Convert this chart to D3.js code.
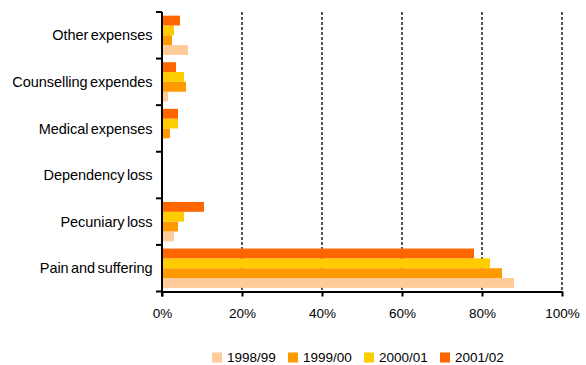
<!DOCTYPE html>
<html>
<head>
<meta charset="utf-8">
<script src="https://cdn.jsdelivr.net/npm/d3@7"></script>
<style>
  html, body { margin: 0; padding: 0; background: #fff; }
  svg { display: block; font-family: Arial, "Liberation Sans", sans-serif; }
</style>
</head>
<body>
<svg id="chart" width="586" height="365"></svg>
<script>
// Claim categories, bottom to top
const categories = ["Pain and suffering", "Pecuniary loss", "Dependency loss",
                    "Medical expenses", "Counselling expendes", "Other expenses"];
const seriesNames = ["1998/99", "1999/00", "2000/01", "2001/02"];
const seriesColors = ["#FFCC99", "#FF9900", "#FFCC00", "#FF6600"];

// Share of total (%) per category, one array per year
const v1998 = [88, 3, 0, 0, 1.5, 6.5];
const v1999 = [85, 4, 0, 2, 6, 2.5];
const v2000 = [82, 5.5, 0, 4, 5.5, 3];
const v2001 = [78, 10.5, 0, 4, 3.5, 4.5];
const seriesValues = [v1998, v1999, v2000, v2001];

const xTicks = [0, 20, 40, 60, 80, 100];

const svg = d3.select("#chart");
const plotLeft = 162, plotRight = 562, plotTop = 12, plotBottom = 291.5;

const x = d3.scaleLinear().domain([0, 100]).range([plotLeft, plotRight]);
const y = d3.scaleBand().domain(categories).range([plotBottom, plotTop]);
// within a band the latest year sits on top
const inner = d3.scaleBand().domain(seriesNames.slice().reverse())
  .range([0, y.bandwidth()]).paddingInner(0).paddingOuter(0.37);

// dashed gridlines
svg.append("g").selectAll("line")
  .data(xTicks.filter(d => d > 0))
  .join("line")
  .attr("x1", d => x(d)).attr("x2", d => x(d))
  .attr("y1", plotTop).attr("y2", plotBottom)
  .attr("stroke", "#000").attr("stroke-width", 1.3)
  .attr("stroke-dasharray", "3,2");

// bars
const groups = svg.append("g").selectAll("g")
  .data(seriesNames)
  .join("g")
  .attr("fill", (d, i) => seriesColors[i]);

groups.selectAll("rect")
  .data((s, si) => categories.map((c, ci) => ({ c, s, v: seriesValues[si][ci] })))
  .join("rect")
  .attr("x", x(0))
  .attr("y", d => y(d.c) + inner(d.s))
  .attr("width", d => x(d.v) - x(0))
  .attr("height", inner.bandwidth());

// x axis
const xAxis = svg.append("g")
  .attr("transform", `translate(0,${plotBottom})`)
  .call(d3.axisBottom(x).tickValues(xTicks).tickFormat(d => d + "%")
    .tickSizeInner(5).tickSizeOuter(0).tickPadding(12));
xAxis.select(".domain").attr("stroke-width", 2);
xAxis.selectAll(".tick line").attr("stroke-width", 2);
xAxis.selectAll("text").attr("font-size", 13.5).attr("fill", "#000")
  .attr("font-family", "Arial, 'Liberation Sans', sans-serif");

// y axis: ticks at category boundaries
const yAxis = svg.append("g").attr("transform", `translate(${plotLeft},0)`);
yAxis.append("line")
  .attr("x1", 0).attr("x2", 0).attr("y1", plotTop).attr("y2", plotBottom + 5)
  .attr("stroke", "#000").attr("stroke-width", 2);
const bounds = categories.map(c => y(c)).concat([plotBottom]);
yAxis.selectAll("line.tk").data(bounds).join("line")
  .attr("class", "tk")
  .attr("x1", -6).attr("x2", 0)
  .attr("y1", d => d).attr("y2", d => d)
  .attr("stroke", "#000").attr("stroke-width", 2);
yAxis.selectAll("text").data(categories).join("text")
  .attr("x", -9.5)
  .attr("y", d => y(d) + y.bandwidth() / 2)
  .attr("dy", "0.35em")
  .attr("text-anchor", "end")
  .attr("font-size", 14.5)
  .attr("letter-spacing", -0.05)
  .attr("word-spacing", -1.5)
  .text(d => d);

// legend
const legend = svg.append("g").attr("transform", "translate(212,352.5)");
const item = legend.selectAll("g").data(seriesNames).join("g")
  .attr("transform", (d, i) => `translate(${i * 76},0)`);
item.append("rect").attr("width", 10).attr("height", 10)
  .attr("fill", (d, i) => seriesColors[i]);
item.append("text").attr("x", 15).attr("y", 5).attr("dy", "0.35em")
  .attr("font-size", 13.5).text(d => d);
</script>
</body>
</html>
